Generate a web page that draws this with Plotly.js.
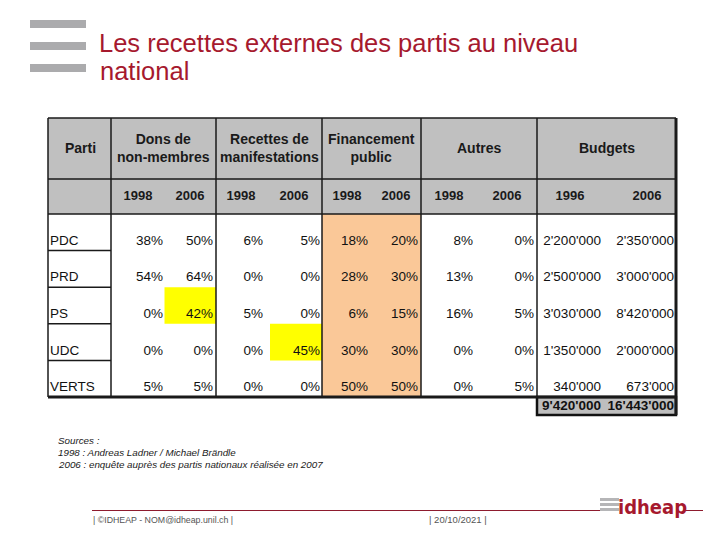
<!DOCTYPE html>
<html><head><meta charset="utf-8">
<script src="https://cdn.plot.ly/plotly-3.0.1.min.js"></script>
<style>html,body{margin:0;padding:0;background:#fff}#chart{width:720px;height:540px}</style>
</head><body><div id="chart"></div><script>
// ---- data ----
const parties = ['PDC', 'PRD', 'PS', 'UDC', 'VERTS'];
const groupLabels = ['Dons de<br>non-membres', 'Recettes de<br>manifestations', 'Financement<br>public', 'Autres', 'Budgets'];
const yearLabels = [['1998', '2006'], ['1998', '2006'], ['1998', '2006'], ['1998', '2006'], ['1996', '2006']];
const dons1998 = [38, 54, 0, 0, 5];
const dons2006 = [50, 64, 42, 0, 5];
const recettes1998 = [6, 0, 5, 0, 0];
const recettes2006 = [5, 0, 0, 45, 0];
const financement1998 = [18, 28, 6, 30, 50];
const financement2006 = [20, 30, 15, 30, 50];
const autres1998 = [8, 13, 16, 0, 0];
const autres2006 = [0, 0, 5, 0, 5];
const budget1996 = [2200000, 2500000, 3030000, 1350000, 340000];
const budget2006 = [2350000, 3000000, 8420000, 2000000, 673000];
const highlights = [['PS', 1], ['UDC', 3]]; // party, value column index
const sourcesLines = ['Sources :', '1998 : Andreas Ladner / Michael Brändle', '2006 : enquête auprès des partis nationaux réalisée en 2007'];
const titleLines = ['Les recettes externes des partis au niveau', 'national'];

// ---- geometry / styles ----
const FONT = 'Liberation Sans, Arial, sans-serif';
const colEdges = [48, 111, 216, 322, 421, 537, 676];
const tableTop = 118, hdrSplit = 179, bodyTop = 214, bodyBottom = 397, totalBottom = 415;
const rowH = (bodyBottom - bodyTop) / parties.length;
const valRight = [162, 212, 262, 319, 367, 417, 472, 533, 600, 673];
const yearCenters = [138, 190, 241, 294, 347, 396, 449, 507, 570, 647];
const lineCol = '#1a1a1a';
const red = '#A6192E';

const fmtPct = v => v + '%';
const fmtNum = v => String(v).replace(/\B(?=(\d{3})+(?!\d))/g, "'");
const columns = [dons1998, dons2006, recettes1998, recettes2006, financement1998, financement2006, autres1998, autres2006, budget1996, budget2006];
const totals = [budget1996.reduce((a, b) => a + b, 0), budget2006.reduce((a, b) => a + b, 0)];
const rowY = parties.map((p, i) => bodyTop + i * rowH + 27.5);

const shapes = [];
const rect = (x0, y0, x1, y1, fill, lw, lc) => shapes.push({type: 'rect', xref: 'x', yref: 'y', x0, y0, x1, y1, fillcolor: fill, line: {width: lw || 0, color: lc || lineCol}, layer: 'below'});
const line = (x0, y0, x1, y1, w, c) => shapes.push({type: 'line', xref: 'x', yref: 'y', x0, y0, x1, y1, line: {width: w, color: c || lineCol}});

// top-left decorative bars
[20, 42, 64].forEach(y => rect(30, y, 86, y + 8, '#ABABAD'));
// header background
rect(colEdges[0], tableTop, colEdges[6], bodyTop, '#C0C0C0');
// public funding column
rect(colEdges[3], bodyTop, colEdges[4], bodyBottom, '#FAC898');
// highlighted cells
highlights.forEach(([p, c]) => {
  const i = parties.indexOf(p);
  const g = Math.floor(c / 2);
  const mid = (colEdges[g + 1] + colEdges[g + 2]) / 2 + 1;
  rect(mid, bodyTop + i * rowH, colEdges[g + 2], bodyTop + (i + 1) * rowH, '#FFFF00');
});
// total row
rect(colEdges[5], bodyBottom, colEdges[6], totalBottom, '#BEBEBE', 2.5, '#111');
// grid lines
line(colEdges[0], tableTop, colEdges[6], tableTop, 1.5);
line(colEdges[0], hdrSplit, colEdges[6], hdrSplit, 1.5);
line(colEdges[0], bodyTop, colEdges[6], bodyTop, 1.5);
colEdges.slice(1, 6).forEach(x => line(x, tableTop, x, bodyBottom, 1.5));
line(colEdges[0], tableTop, colEdges[0], bodyBottom, 1.5);
line(colEdges[6], tableTop, colEdges[6], totalBottom, 3);
line(colEdges[0], bodyBottom, colEdges[6], bodyBottom, 3);
parties.slice(1).forEach((p, i) => line(colEdges[0], bodyTop + (i + 1) * rowH, colEdges[1], bodyTop + (i + 1) * rowH, 1.5));
// footer lines
line(92, 510.5, 600, 510.5, 1, '#8E1B2E');
line(685, 510.5, 703, 510.5, 1, '#8E1B2E');
[499.5, 504.5, 509.5].forEach(y => rect(600, y - 1.5, 619, y + 1.5, '#B5B5B7'));

const traces = [];
const textTrace = (x, y, text, pos, size, color, bold) => traces.push({
  type: 'scatter', mode: 'text', x, y, text: bold ? text.map(t => '<b>' + t + '</b>') : text,
  textposition: pos, textfont: {family: FONT, size, color}, hoverinfo: 'skip', showlegend: false, cliponaxis: false
});
// party names
textTrace(parties.map(() => 50), rowY, parties, 'middle right', 13.5, '#111');
// values
columns.forEach((col, c) => {
  const fmt = c >= 8 ? fmtNum : fmtPct;
  textTrace(parties.map(() => valRight[c] + 1), rowY, col.map(fmt), 'middle left', 13.5, '#111');
});
// totals
textTrace([valRight[8] + 1, valRight[9] + 1], [406.5, 406.5], totals.map(fmtNum), 'middle left', 13.5, '#111', true);
// year labels
textTrace(yearCenters, yearCenters.map(() => 196.5), yearLabels.flat(), 'middle center', 13, '#1a1a1a', true);

const annotations = [];
const ann = (x, y, text, size, color, xanchor, family) => annotations.push({xref: 'x', yref: 'y', x, y, text, showarrow: false, xanchor: xanchor || 'center', yanchor: 'middle', font: {family: family || FONT, size, color}});
ann(80, 147.5, '<b>Parti</b>', 14, '#1a1a1a');
groupLabels.forEach((g, k) => ann((colEdges[k + 1] + colEdges[k + 2]) / 2, 147.5, '<b>' + g + '</b>', 14, '#1a1a1a'));
ann(98, 71, titleLines[1], 25.5, red, 'left');
sourcesLines.forEach((s, k) => ann(56, 440 + k * 12.3, '<i>' + s + '</i>', 9.8, '#1a1a1a', 'left'));
ann(91, 519.5, '| ©IDHEAP - NOM@idheap.unil.ch |', 8.8, '#555', 'left');
ann(427, 519.5, '| 20/10/2021 |', 9.5, '#555', 'left');
ann(652, 507, '<b>idheap</b>', 20, red, 'center', 'DejaVu Sans Condensed, Liberation Sans Narrow, Liberation Sans, sans-serif');

const layout = {
  width: 720, height: 540, margin: {l: 0, r: 0, t: 0, b: 0},
  paper_bgcolor: '#fff', plot_bgcolor: '#fff',
  title: {text: titleLines[0], x: 99 / 720, xanchor: 'left', y: 1 - 43 / 540, yanchor: 'middle', xref: 'paper', yref: 'paper',
    font: {family: FONT, size: 25.5, color: red}},
  xaxis: {range: [0, 720], visible: false, fixedrange: true},
  yaxis: {range: [540, 0], visible: false, fixedrange: true},
  shapes, annotations, showlegend: false, hovermode: false
};
Plotly.newPlot('chart', traces, layout, {staticPlot: true, displayModeBar: false});
</script></body></html>
